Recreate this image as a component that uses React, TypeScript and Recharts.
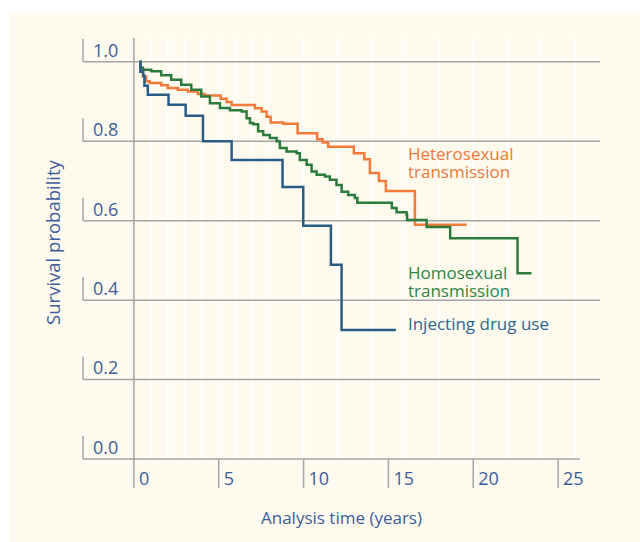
import { ComposedChart, Line, XAxis, YAxis, CartesianGrid, ReferenceLine } from 'recharts'

const FONT = '"Open Sans", Lato, sans-serif'
const INK = '#3d5c9c'
const GRID = '#a4a4a4'
const CREAM = '#fefaee'

const xTicks = [0, 5, 10, 15, 20, 25]
const yTicks = [0, 0.2, 0.4, 0.6, 0.8, 1.0]
const gridLevels = [0.2, 0.4, 0.6, 0.8, 1.0]
const yearLines = [1, 2, 3, 4, 5, 6, 7, 8, 9, 10, 11, 12, 13, 14, 15, 16, 17, 18, 19, 20, 21, 22, 23, 24, 25, 26]

// injecting drug use
const iduTime = [0.34, 0.38, 0.55, 0.62, 0.82, 2.04, 3.05, 4.07, 5.76, 8.76, 9.98, 11.61, 12.24, 15.44]
const iduSurv = [1.0, 0.975, 0.965, 0.94, 0.917, 0.892, 0.864, 0.8, 0.753, 0.685, 0.587, 0.489, 0.325, 0.325]

// heterosexual transmission
const hetTime = [0.34, 0.38, 0.43, 0.53, 0.72, 0.93, 1.61, 2.0, 2.59, 3.18, 3.77, 4.18, 5.11, 5.46, 5.76, 7.13, 7.53, 7.82, 8.06, 8.8, 9.65, 10.8, 11.12, 11.45, 12.96, 13.58, 13.91, 14.44, 14.85, 16.56, 19.61]
const hetSurv = [1.0, 0.985, 0.976, 0.963, 0.951, 0.947, 0.941, 0.934, 0.93, 0.925, 0.919, 0.915, 0.907, 0.899, 0.891, 0.883, 0.875, 0.862, 0.847, 0.844, 0.82, 0.805, 0.797, 0.786, 0.77, 0.755, 0.72, 0.7, 0.675, 0.59, 0.59]

// homosexual transmission
const homTime = [0.35, 0.4, 0.53, 1.02, 1.61, 2.2, 2.79, 3.38, 3.97, 4.48, 5.07, 5.66, 6.35, 6.64, 6.84, 7.03, 7.32, 7.62, 8.01, 8.41, 8.6, 9.0, 9.59, 9.78, 10.18, 10.47, 10.77, 11.26, 11.55, 11.94, 12.24, 12.63, 13.02, 13.17, 15.2, 15.48, 16.07, 16.1, 17.25, 18.64, 22.61, 23.43]
const homSurv = [1.0, 0.985, 0.98, 0.976, 0.966, 0.955, 0.942, 0.93, 0.913, 0.896, 0.884, 0.878, 0.875, 0.858, 0.846, 0.843, 0.825, 0.816, 0.808, 0.8, 0.783, 0.774, 0.77, 0.753, 0.741, 0.724, 0.716, 0.711, 0.703, 0.69, 0.673, 0.665, 0.657, 0.645, 0.632, 0.621, 0.615, 0.602, 0.584, 0.556, 0.468, 0.468]

const toRows = (t: number[], s: number[]) => t.map((v, i) => ({ t: v, s: s[i] }))
const iduData = toRows(iduTime, iduSurv)
const hetData = toRows(hetTime, hetSurv)
const homData = toRows(homTime, homSurv)

const series = [
  { name: 'het', data: hetData, color: '#f47a3a' },
  { name: 'hom', data: homData, color: '#2b7b3d' },
  { name: 'idu', data: iduData, color: '#2a5d86' },
]

// series captions, one entry per line, anchored in data units
const captions = [
  { key: 'het1', text: 'Heterosexual', x: 16.15, y: 0.753, color: '#f07838' },
  { key: 'het2', text: 'transmission', x: 16.15, y: 0.707, color: '#f07838' },
  { key: 'hom1', text: 'Homosexual', x: 16.15, y: 0.453, color: '#2f8444' },
  { key: 'hom2', text: 'transmission', x: 16.15, y: 0.407, color: '#2f8444' },
  { key: 'idu1', text: 'Injecting drug use', x: 16.15, y: 0.325, color: '#2e6590' },
]

function XTick({ x, y, payload }: any) {
  return (
    <g>
      <line x1={x} y1={y} x2={x} y2={y + 29} stroke={GRID} strokeWidth={1.5} />
      <text x={x + 5} y={y + 26} fill={INK} fontSize={18} fontFamily={FONT}>
        {payload.value}
      </text>
    </g>
  )
}

const YTitle = ({ viewBox }: any) => {
  const cx = viewBox.x + 52
  const cy = viewBox.y + viewBox.height / 2 - 6
  return (
    <text x={cx} y={cy} transform={`rotate(-90, ${cx}, ${cy})`} textAnchor="middle" dominantBaseline="central" fill={INK} fontSize={18.5} fontFamily={FONT}>
      Survival probability
    </text>
  )
}

export default function App() {
  return (
    <div style={{ position: 'absolute', left: 0, top: 0, width: 640, height: 542, background: '#ffffff' }}>
      <div style={{ position: 'absolute', left: 9, top: 12, width: 631, height: 530, background: CREAM }} />
      <div style={{ position: 'absolute', left: 0, top: 0 }}>
        <ComposedChart width={640} height={542} margin={{ top: 38, right: 40, bottom: 10, left: 0 }} style={{ fontFamily: FONT }}>
          <CartesianGrid horizontal={false} verticalValues={yearLines} stroke="#ffffff" strokeWidth={1.5} />
          <XAxis
            type="number"
            dataKey="t"
            domain={[-3, 27.47]}
            ticks={xTicks}
            allowDataOverflow
            axisLine={false}
            tickLine={false}
            tickSize={0}
            tickMargin={0}
            tick={<XTick />}
            height={73}
            label={{ value: 'Analysis time (years)', position: 'insideBottom', offset: 8, fill: INK, fontSize: 17, fontFamily: FONT }}
          />
          <YAxis
            type="number"
            domain={[0, 1.06]}
            allowDataOverflow
            width={83}
            tick={false}
            axisLine={false}
            tickLine={false}
            label={{ content: YTitle }}
          />
          {gridLevels.map((v) => (
            <ReferenceLine key={'g' + v} y={v} stroke={GRID} strokeWidth={1.5} />
          ))}
          <ReferenceLine segment={[{ x: -3, y: 0 }, { x: 26.28, y: 0 }]} stroke={GRID} strokeWidth={1.5} />
          <ReferenceLine segment={[{ x: 0, y: 0 }, { x: 0, y: 1.06 }]} stroke={GRID} strokeWidth={1.5} />
          {yTicks.map((v) => (
            <ReferenceLine
              key={'yt' + v}
              segment={[{ x: -3, y: v }, { x: -3, y: v + 0.058 }]}
              stroke={GRID}
              strokeWidth={1.5}
              ifOverflow="visible"
              label={{ value: v.toFixed(1), position: 'right', offset: 10, fill: INK, fontSize: 18, fontFamily: FONT }}
            />
          ))}
          {series.map((s) => (
            <Line
              key={s.name}
              data={s.data}
              dataKey="s"
              type="stepAfter"
              stroke={s.color}
              strokeWidth={2.5}
              dot={false}
              activeDot={false}
              isAnimationActive={false}
            />
          ))}
          {captions.map((c) => (
            <ReferenceLine
              key={c.key}
              segment={[{ x: c.x, y: c.y }, { x: c.x + 0.01, y: c.y }]}
              stroke="none"
              ifOverflow="visible"
              label={{
                content: ({ viewBox }: any) => (
                  <text x={viewBox.x} y={viewBox.y} fill={c.color} fontSize={17} fontFamily={FONT}>
                    {c.text}
                  </text>
                ),
              }}
            />
          ))}
        </ComposedChart>
      </div>
    </div>
  )
}
